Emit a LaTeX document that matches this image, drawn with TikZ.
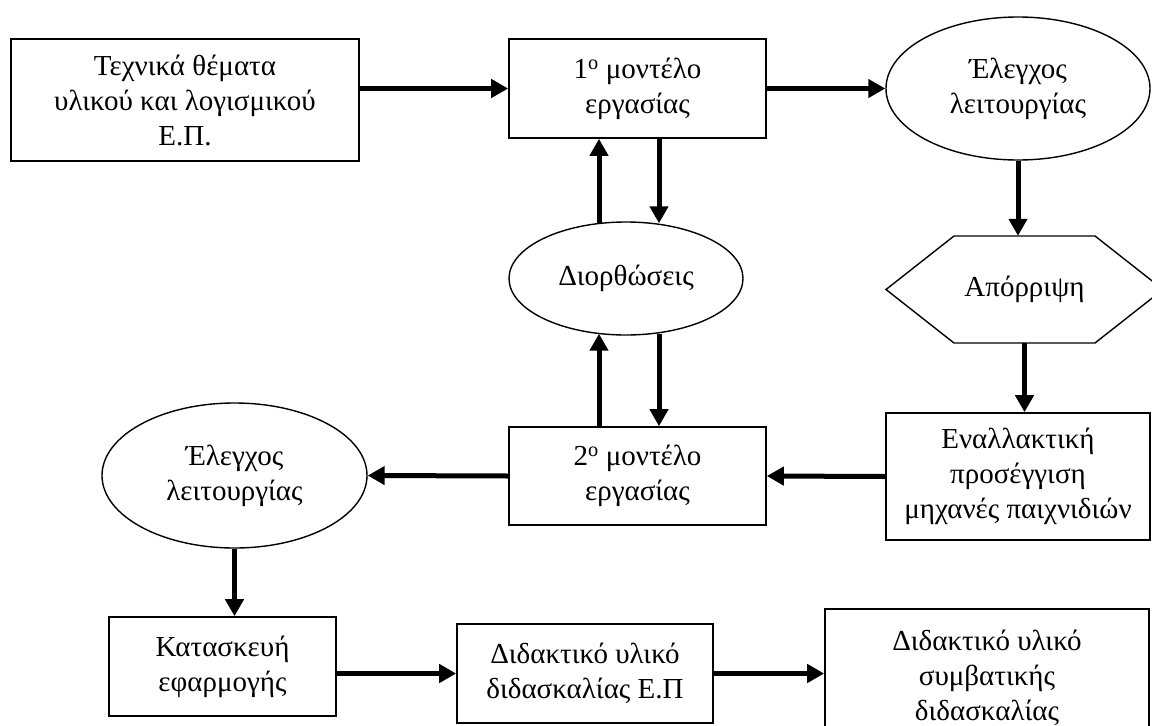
\documentclass[tikz,border=0pt]{standalone}
\usepackage{fontspec}
\setmainfont{Liberation Serif}
\usetikzlibrary{shapes.geometric,arrows.meta,calc}
\begin{document}
\begin{tikzpicture}[x=1pt,y=-1pt,
  every node/.style={font=\fontsize{29}{35}\selectfont, align=center, inner sep=0pt},
  boxn/.style={draw, line width=1.6pt, rectangle},
  elln/.style={draw, line width=1.4pt, ellipse},
  conn/.style={line width=5pt, -{Triangle[length=17pt,width=18pt]}}
]
\useasboundingbox (0,0) rectangle (1152,726);
% nodes
\node[boxn, minimum width=348pt, minimum height=122pt] (b1) at (185,100) {Τεχνικά θέματα\\υλικού και λογισμικού\\Ε.Π.};
\node[boxn, minimum width=257pt, minimum height=99pt] (m1) at (637.5,88.5) {1\textsuperscript{ο} μοντέλο\\εργασίας};
\node[elln, minimum width=264pt, minimum height=143pt] (e1) at (1018,88.5) {Έλεγχος\\λειτουργίας};
\node[minimum width=277pt, minimum height=107pt] (hex) at (1024.5,289.5) {Απόρριψη};
\draw[line width=1.4pt] (954,236) -- (1095,236) -- (1163,289.5) -- (1095,343) -- (954,343) -- (886,289.5) -- cycle;
\node[boxn, minimum width=264pt, minimum height=127pt] (alt) at (1018,476.5) {Εναλλακτική\\προσέγγιση\\μηχανές παιχνιδιών};
\node[elln, minimum width=234pt, minimum height=113pt] (dior) at (626,278.5) {Διορθώσεις};
\node[boxn, minimum width=257pt, minimum height=98pt] (m2) at (637.5,476) {2\textsuperscript{ο} μοντέλο\\εργασίας};
\node[elln, minimum width=265pt, minimum height=145pt] (e2) at (234.5,475.5) {Έλεγχος\\λειτουργίας};
\node[boxn, minimum width=227pt, minimum height=99pt] (k) at (222.5,666.5) {Κατασκευή\\εφαρμογής};
\node[boxn, minimum width=256pt, minimum height=99pt] (ep) at (585,673.5) {Διδακτικό υλικό\\διδασκαλίας Ε.Π};
\node[boxn, minimum width=324pt, minimum height=138pt] (fin) at (987,678) {Διδακτικό υλικό\\συμβατικής\\διδασκαλίας};
% helper x positions
\coordinate (xl) at (599,0);
\coordinate (xr) at (659,0);
% connectors
\draw[conn] (b1.east |- m1) -- (m1.west);
\draw[conn] (m1.east) -- (e1.west);
\draw[conn] (e1.south) -- (e1.south |- hex.north);
\draw[conn] (hex.south) -- (hex.south |- alt.north);
\draw[conn] (alt.west) -- (m2.east);
\draw[conn] (m2.west) -- (e2.east);
\draw[conn] (e2.south) -- (e2.south |- k.north);
\draw[conn] (k.east |- ep.west) -- (ep.west);
\draw[conn] (ep.east) -- (ep.east -| fin.west);
\draw[conn] ($(xl |- dior.north)+(0,2)$) -- (xl |- m1.south);
\draw[conn] (xr |- m1.south) -- ($(xr |- dior.north)+(0,2)$);
\draw[conn] (xl |- m2.north) -- ($(xl |- dior.south)+(0,-2)$);
\draw[conn] ($(xr |- dior.south)+(0,-2)$) -- (xr |- m2.north);
\end{tikzpicture}
\end{document}
